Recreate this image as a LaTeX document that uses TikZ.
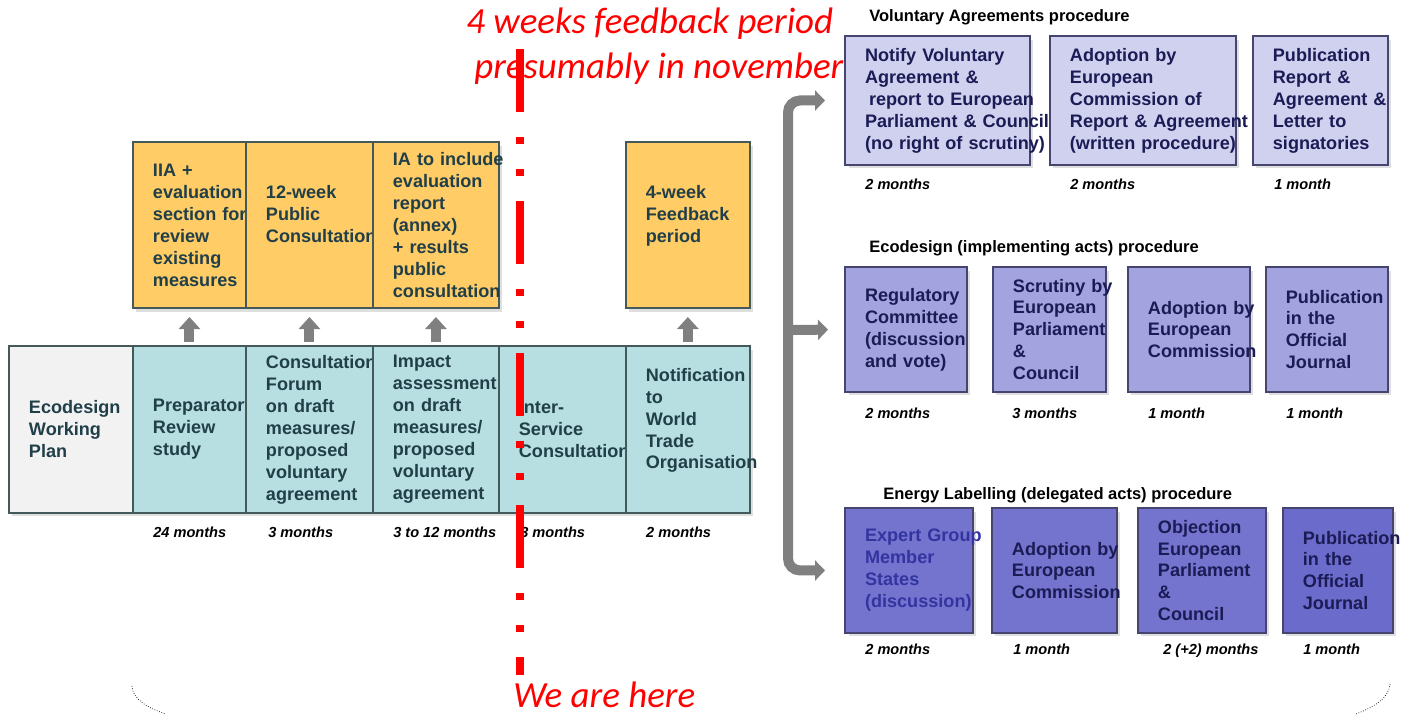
\documentclass[tikz,border=0pt]{standalone}
\usepackage{fontspec}
\setmainfont{Liberation Sans}
\newfontfamily\calibri{Carlito}
\usetikzlibrary{arrows.meta, positioning, shadows}

\definecolor{stagefill}{HTML}{B7DEE0}
\definecolor{planfill}{HTML}{F2F2F2}
\definecolor{outfill}{HTML}{FFCC66}
\definecolor{stageline}{HTML}{44595A}
\definecolor{stagetext}{HTML}{213F48}
\definecolor{vafill}{HTML}{D0D0EF}
\definecolor{ecofill}{HTML}{A3A3DF}
\definecolor{elfill}{HTML}{7474CF}
\definecolor{elfilldark}{HTML}{6B6BCB}
\definecolor{procline}{HTML}{45456F}
\definecolor{proctext}{HTML}{1B1B55}
\definecolor{proctextlight}{HTML}{3434A0}
\definecolor{arrowgray}{HTML}{808080}

\newcommand{\boxfont}{\fontsize{10.3}{12.5}\selectfont\bfseries
  \hyphenpenalty=10000 \exhyphenpenalty=10000 }

\begin{document}
\begin{tikzpicture}[x=0.02cm, y=-0.02cm,
  stage/.style={draw=stageline, line width=0.8pt, outer sep=0pt,
    inner xsep=0.4cm, inner ysep=2pt, align=left, font=\boxfont,
    text=stagetext,
    drop shadow={shadow xshift=0.07cm, shadow yshift=-0.07cm, opacity=0.25}},
  lowbox/.style={stage, fill=stagefill, minimum height=3.34cm},
  planbox/.style={stage, fill=planfill, minimum height=3.34cm},
  outbox/.style={stage, fill=outfill, minimum height=3.32cm},
  procbox/.style={stage, draw=procline, text=proctext},
  vabox/.style={procbox, fill=vafill, minimum height=2.58cm},
  ecobox/.style={procbox, fill=ecofill, minimum height=2.5cm},
  elbox/.style={procbox, fill=elfill, minimum height=2.5cm},
  months/.style={font=\fontsize{8.3}{10}\selectfont\bfseries\itshape,
    inner sep=0pt, text=black},
  procname/.style={font=\fontsize{9.4}{11}\selectfont\bfseries,
    inner sep=0pt, text=black},
  note/.style={font=\calibri\itshape\fontsize{21}{25.5}\selectfont,
    text=red, inner sep=0pt},
  uparrow/.style={draw=arrowgray, line width=0.2cm, shorten <=0.08cm,
    shorten >=0.18cm, -{Triangle[length=0.24cm,width=0.42cm]}},
  bracket/.style={draw=arrowgray, line width=0.2cm, rounded corners=0.24cm,
    -{Triangle[length=0.2cm,width=0.4cm]}},
  redline/.style={draw=red, line width=0.16cm,
    dash pattern=on 1.26cm off 0.5cm on 0.14cm off 0.5cm on 0.14cm off 0.5cm}]
  \useasboundingbox (0,0) rectangle (1403,714);

  % timeline of the ecodesign review
  \node[planbox, text width=1.68cm, anchor=north west] (plan) at (9,346)
    {Ecodesign\\Working\\Plan};
  \node[lowbox, text width=1.46cm, right=0pt of plan] (prep)
    {Preparatory\\Review\\study};
  \node[lowbox, text width=1.74cm, right=0pt of prep] (forum)
    {Consultation\\Forum\\on~draft\\measures/\\proposed\\voluntary\\agreement};
  \node[lowbox, text width=1.72cm, right=0pt of forum] (impact)
    {Impact\\assessment\\on~draft\\measures/\\proposed\\voluntary\\agreement};
  \node[lowbox, text width=1.74cm, right=0pt of impact] (isc)
    {Inter-\\Service\\Consultation};
  \node[lowbox, text width=1.68cm, right=0pt of isc] (wto)
    {Notification\\to\\World\\Trade\\Organisation\\\mbox{}};

  \node[outbox, text width=1.46cm, above=0.76cm of prep] (iia)
    {IIA~+\\evaluation\\section~for\\review\\existing\\measures};
  \node[outbox, text width=1.74cm, above=0.76cm of forum] (pc)
    {12-week\\Public\\Consultation\\\mbox{}};
  \node[outbox, text width=1.72cm, above=0.76cm of impact] (ia)
    {IA~to~include\\evaluation\\report\\(annex)\\+~results\\public\\consultation};
  \node[outbox, text width=1.68cm, above=0.76cm of wto] (fb)
    {4-week\\Feedback\\period\\\mbox{}};

  \foreach \a/\b in {prep/iia, forum/pc, impact/ia, wto/fb}
    \draw[uparrow] (\a) -- (\b);

  \node[months, below right=0.28cm and 0.4cm of prep.south west] (tprep) {24 months};
  \node[months, below right=0.28cm and 0.44cm of forum.south west] (tforum) {3 months};
  \node[months, below right=0.28cm and 0.4cm of impact.south west] (timpact) {3 to 12 months};
  \node[months, below right=0.28cm and 0.42cm of isc.south west] (tisc) {3 months};
  \node[months, below right=0.28cm and 0.4cm of wto.south west] (twto) {2 months};

  % where we are
  \coordinate (nowtop) at (520,49);
  \coordinate (nowbot) at (520,675);
  \draw[redline] (nowtop) -- (nowbot);
  \node[note, anchor=base west] (note1) at (466,33) {4 weeks feedback period};
  \node[note, anchor=base west] (note2) at (474,78) {presumably in november};
  \node[note, anchor=base west] (here) at (513,707) {We are here};

  % voluntary agreements
  \node[vabox, text width=2.9cm, anchor=north west] (va1) at (845,36)
    {Notify~Voluntary\\Agreement~\&\\\hspace*{0.08cm}report~to~European\\Parliament~\&~Council\\(no~right~of~scrutiny)};
  \node[vabox, text width=2.92cm, right=0.4cm of va1] (va2)
    {Adoption~by\\European\\Commission~of\\Report~\&~Agreement\\(written~procedure)};
  \node[vabox, text width=1.9cm, right=0.34cm of va2] (va3)
    {Publication\\Report~\&\\Agreement~\&\\Letter~to\\signatories};
  \node[procname, above right=0.22cm and 0.48cm of va1.north west] (vahead)
    {Voluntary Agreements procedure};
  \node[months, below right=0.28cm and 0.4cm of va1.south west] (tva1) {2 months};
  \node[months, below right=0.28cm and 0.4cm of va2.south west] (tva2) {2 months};
  \node[months, below right=0.28cm and 0.42cm of va3.south west] (tva3) {1 month};

  % ecodesign implementing acts
  \node[ecobox, text width=1.64cm, anchor=north west] (ec1) at (845,267)
    {Regulatory\\Committee\\(discussion\\and~vote)};
  \node[ecobox, text width=1.46cm, right=0.52cm of ec1] (ec2)
    {Scrutiny~by\\European\\Parliament\\\&\\Council};
  \node[ecobox, text width=1.64cm, right=0.44cm of ec2] (ec3)
    {Adoption~by\\European\\Commission};
  \node[ecobox, text width=1.64cm, right=0.32cm of ec3] (ec4)
    {Publication\\in~the\\Official\\Journal};
  \node[procname, above right=0.22cm and 0.48cm of ec1.north west] (echead)
    {Ecodesign (implementing acts) procedure};
  \node[months, below right=0.32cm and 0.4cm of ec1.south west] (tec1) {2 months};
  \node[months, below right=0.32cm and 0.38cm of ec2.south west] (tec2) {3 months};
  \node[months, below right=0.32cm and 0.4cm of ec3.south west] (tec3) {1 month};
  \node[months, below right=0.32cm and 0.4cm of ec4.south west] (tec4) {1 month};

  % energy labelling delegated acts
  \node[elbox, text width=1.76cm, text=proctextlight, anchor=north west] (el1) at (845,508)
    {Expert~Group\\Member\\States\\(discussion)};
  \node[elbox, text width=1.7cm, right=0.38cm of el1] (el2)
    {Adoption~by\\European\\Commission};
  \node[elbox, text width=1.76cm, right=0.42cm of el2] (el3)
    {Objection\\European\\Parliament\\\&\\Council};
  \node[elbox, fill=elfilldark, text width=1.4cm, right=0.34cm of el3] (el4)
    {Publication\\in~the\\Official\\Journal};
  \node[procname, above right=0.1cm and 0.76cm of el1.north west] (elhead)
    {Energy Labelling (delegated acts) procedure};
  \node[months, below right=0.22cm and 0.4cm of el1.south west] (tel1) {2 months};
  \node[months, below right=0.22cm and 0.42cm of el2.south west] (tel2) {1 month};
  \node[months, below right=0.22cm and 0.5cm of el3.south west] (tel3) {2 (+2) months};
  \node[months, below right=0.22cm and 0.4cm of el4.south west] (tel4) {1 month};

  % split into the three procedures
  \coordinate (fork) at (788,330);
  \draw[bracket, shorten >=0.4cm] (fork) |- (va1.west);
  \draw[bracket, shorten >=0.34cm] (fork) -- (ec1.west);
  \draw[bracket, shorten >=0.4cm] (fork) |- (el1.west);

  % brace ends
  \draw[densely dotted, line width=0.4pt] (132,686) .. controls (133,700) and (148,708) .. (166,714);
  \draw[densely dotted, line width=0.4pt] (1390,684) .. controls (1389,698) and (1374,707) .. (1356,714);
\end{tikzpicture}
\end{document}
